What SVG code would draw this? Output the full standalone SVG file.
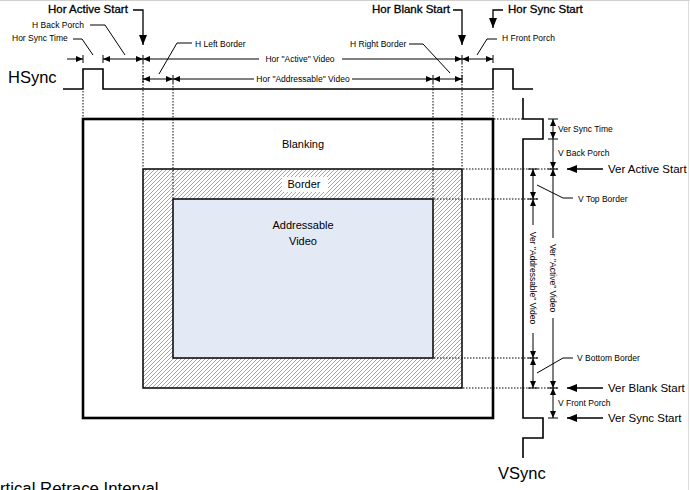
<svg xmlns="http://www.w3.org/2000/svg" width="690" height="490" viewBox="0 0 690 490">
<style>
text{font-family:"Liberation Sans",Arial,sans-serif;fill:#000}
.s{font-size:8.5px}
.m{font-size:11px}
.b{font-size:11.5px;stroke:#000;stroke-width:0.3}
.r{font-size:11.5px}
.g{font-size:16.5px}
.ln{stroke:#000;stroke-width:1;fill:none}
.d{stroke:#000;stroke-width:1;stroke-dasharray:1.5 1.5;fill:none}
.dim{stroke:#000;stroke-width:1;fill:none;marker-start:url(#ah);marker-end:url(#ah)}
.de{stroke:#000;stroke-width:1;fill:none;marker-end:url(#ah)}
.ds{stroke:#000;stroke-width:1;fill:none;marker-start:url(#ah)}
.bg{stroke:#000;stroke-width:1.3;fill:none;marker-end:url(#big)}
.sig{stroke:#000;stroke-width:1.6;fill:none}
</style>
<defs>
<marker id="ah" viewBox="0 0 7 6" refX="7" refY="3" markerWidth="7" markerHeight="6" markerUnits="userSpaceOnUse" orient="auto-start-reverse"><path d="M0,0 L7,3 L0,6 z" fill="#000"/></marker>
<marker id="big" viewBox="0 0 10 8" refX="10" refY="4" markerWidth="10" markerHeight="8" markerUnits="userSpaceOnUse" orient="auto"><path d="M0,0 L10,4 L0,8 z" fill="#000"/></marker>
<pattern id="hatch" patternUnits="userSpaceOnUse" width="4" height="4"><rect width="4" height="4" fill="#fff"/><path d="M-1,1 l2,-2 M0,4 l4,-4 M3,5 l2,-2" stroke="#8a8a8a" stroke-width="0.75"/></pattern>
</defs>
<rect width="690" height="490" fill="#fff"/>
<line x1="0" y1="0.5" x2="690" y2="0.5" stroke="#cfcfcf"/>
<line x1="688.5" y1="0" x2="688.5" y2="490" stroke="#dcdcdc"/>

<g id="outer-frame"><rect x="83" y="119" width="410" height="299" fill="#fff" stroke="#000" stroke-width="2.6"/><text class="m" x="303" y="148" text-anchor="middle">Blanking</text></g>
<g id="border-area"><rect x="143" y="169" width="319" height="219" fill="url(#hatch)" stroke="#000" stroke-width="1.5"/><rect x="282" y="177" width="46" height="15" fill="#fff"/><text class="m" x="304" y="188" text-anchor="middle">Border</text></g>
<g id="addressable-video"><rect x="173" y="199" width="260" height="159" fill="#e4eaf5" stroke="#000" stroke-width="1.5"/><text class="m" x="303" y="229" text-anchor="middle">Addressable</text><text class="m" x="303" y="245" text-anchor="middle">Video</text></g>

<g id="hsync"><polyline class="sig" points="63,89 83,89 83,69 103,69 103,89 493,89 493,69 513,69 513,89 533,89"/><text class="g" x="8" y="83">HSync</text></g>
<g id="vsync"><polyline class="sig" points="523,98 523,119 543,119 543,139 523,139 523,418 543,418 543,438 523,438 523,458"/><text class="g" x="498" y="479">VSync</text></g>

<g id="connectors">
<line class="d" x1="83" y1="91" x2="83" y2="118"/>
<line class="d" x1="143" y1="63" x2="143" y2="168"/>
<line class="d" x1="173" y1="83" x2="173" y2="198"/>
<line class="d" x1="433" y1="83" x2="433" y2="198"/>
<line class="d" x1="462" y1="63" x2="462" y2="168"/>
<line class="d" x1="493" y1="91" x2="493" y2="118"/>
<line class="d" x1="494" y1="119" x2="523" y2="119"/>
<line class="d" x1="463" y1="169" x2="558" y2="169"/>
<line class="d" x1="434" y1="199" x2="538" y2="199"/>
<line class="d" x1="434" y1="358" x2="538" y2="358"/>
<line class="d" x1="463" y1="388" x2="558" y2="388"/>

<path class="ln" d="M83,55V63M103,55V63M143,55V63M462,55V63M493,55V63M143,75V83M173,75V83M433,75V83M462,75V83"/>
<line class="de" x1="67" y1="59" x2="83" y2="59"/>
<line class="dim" x1="103" y1="59" x2="143" y2="59"/>
<line class="ds" x1="143" y1="59" x2="259" y2="59"/>
<line class="de" x1="342" y1="59" x2="462" y2="59"/>
<line class="dim" x1="462" y1="59" x2="493" y2="59"/>
<line class="dim" x1="143" y1="79" x2="173" y2="79"/>
<line class="ds" x1="173" y1="79" x2="254" y2="79"/>
<line class="de" x1="352" y1="79" x2="433" y2="79"/>
<line class="dim" x1="433" y1="79" x2="462" y2="79"/>

<path class="ln" d="M548,119H558M548,139H558M548,169H558M548,388H558M548,418H558M528,169H538M528,199H538M528,358H538M528,388H538"/>
<line class="dim" x1="553" y1="119" x2="553" y2="139"/>
<line class="de" x1="553" y1="139" x2="553" y2="169"/>
<line class="ds" x1="553" y1="169" x2="553" y2="238"/>
<line class="de" x1="553" y1="318" x2="553" y2="388"/>
<line class="dim" x1="553" y1="388" x2="553" y2="418"/>
<line class="dim" x1="533" y1="169" x2="533" y2="199"/>
<line class="ds" x1="533" y1="199" x2="533" y2="225"/>
<line class="de" x1="533" y1="333" x2="533" y2="358"/>
<line class="dim" x1="533" y1="358" x2="533" y2="388"/>

<polyline class="bg" points="133,10 143,10 143,45"/>
<polyline class="bg" points="453,10 462,10 462,45"/>
<polyline class="bg" points="503,10 493,10 493,28"/>
<line class="bg" x1="603" y1="169" x2="567" y2="169"/>
<line class="bg" x1="603" y1="388" x2="567" y2="388"/>
<line class="bg" x1="603" y1="418" x2="567" y2="418"/>

<polyline class="ln" points="90,25 105,25 125,55"/>
<polyline class="ln" points="73,39 82,39 93,55"/>
<polyline class="ln" points="192,43 177,43 159,74"/>
<polyline class="ln" points="409,44 423,44 450,73"/>
<polyline class="ln" points="497,39 487,39 477,55"/>
<polyline class="ln" points="537,185 563,198 573,198"/>
<polyline class="ln" points="537,373 563,358 573,358"/>
</g>

<g id="labels">
<text class="b" x="48" y="13">Hor Active Start</text>
<text class="b" x="372" y="13">Hor Blank Start</text>
<text class="b" x="508" y="13">Hor Sync Start</text>
<text class="s" x="32" y="28">H Back Porch</text>
<text class="s" x="12" y="41">Hor Sync Time</text>
<text class="s" x="195" y="47">H Left Border</text>
<text class="s" x="350" y="47">H Right Border</text>
<text class="s" x="502" y="41">H Front Porch</text>
<text class="s" x="300" y="62" text-anchor="middle">Hor "Active" Video</text>
<text class="s" x="303" y="82" text-anchor="middle">Hor "Addressable" Video</text>
<text class="s" x="558" y="132">Ver Sync Time</text>
<text class="s" x="558" y="156">V Back Porch</text>
<text class="s" x="578" y="202">V Top Border</text>
<text class="s" x="577" y="361">V Bottom Border</text>
<text class="s" x="558" y="406">V Front Porch</text>
<text class="r" x="608" y="173">Ver Active Start</text>
<text class="r" x="608" y="392">Ver Blank Start</text>
<text class="r" x="608" y="422">Ver Sync Start</text>
<text class="s" transform="translate(550,278) rotate(90)" text-anchor="middle">Ver "Active" Video</text>
<text class="s" transform="translate(530,278) rotate(90)" text-anchor="middle">Ver "Addressable" Video</text>
<text style="font-size:16.8px" x="0" y="494">rtical Retrace Interval</text>
</g>
</svg>
